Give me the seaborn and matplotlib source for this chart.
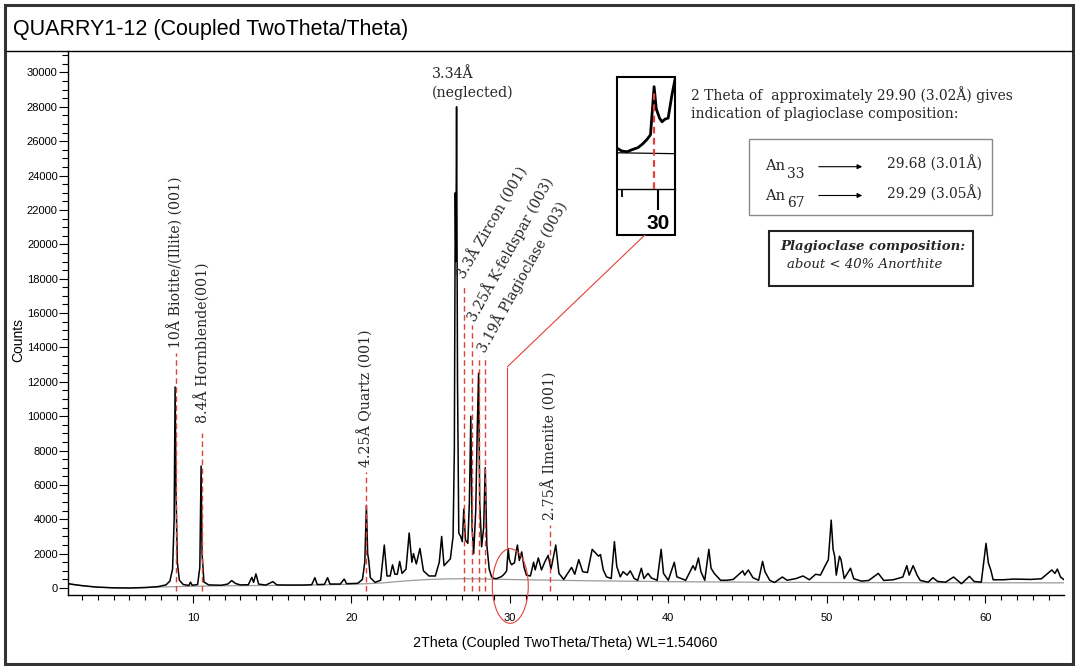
import numpy as np
import pandas as pd
import matplotlib
matplotlib.use("Agg")
import matplotlib.pyplot as plt
import seaborn as sns
from matplotlib.patches import Ellipse, Rectangle, ConnectionPatch, FancyArrowPatch
from matplotlib.lines import Line2D
from matplotlib.ticker import MultipleLocator

# ---------------- data ----------------
two_theta = [2.1, 2.5, 3.0, 3.5, 4.0, 5.0, 6.0, 7.0, 7.8, 8.3, 8.55, 8.72, 8.82, 8.88, 8.94, 9.02,
             9.15, 9.4, 9.75, 9.85, 9.95, 10.3, 10.44, 10.52, 10.58, 10.7, 11.0, 11.8, 12.2, 12.45,
             12.7, 13.0, 13.5, 13.72, 13.83, 13.98, 14.15, 14.6, 15.05, 15.3, 16.0, 17.0, 17.5, 17.7,
             17.85, 18.3, 18.5, 18.65, 19.3, 19.55, 19.7, 20.4, 20.7, 20.85, 20.95, 21.03, 21.1, 21.2,
             21.5, 21.85, 22.08, 22.25, 22.45, 22.6, 22.75, 22.9, 23.05, 23.2, 23.45, 23.65, 23.82,
             23.92, 24.1, 24.33, 24.55, 24.9, 25.3, 25.55, 25.7, 25.85, 26.05, 26.25, 26.42, 26.5,
             26.56, 26.6, 26.64, 26.7, 26.78, 26.9, 27.0, 27.1, 27.2, 27.35, 27.45, 27.54, 27.62,
             27.72, 27.85, 27.95, 28.03, 28.1, 28.22, 28.35, 28.45, 28.55, 28.7, 28.85, 29.0, 29.15,
             29.3, 29.45, 29.58, 29.7, 29.8, 29.86, 29.9, 29.96, 30.05, 30.12, 30.2, 30.29, 30.39,
             30.48, 30.6, 30.75, 30.9, 31.05, 31.3, 31.5, 31.6,
             31.8, 32.0, 32.2, 32.42, 32.6, 32.9, 33.1, 33.4, 33.9, 34.1, 34.35, 34.6, 34.9, 35.2,
             35.4, 35.6, 35.72, 35.9, 36.1, 36.4, 36.6, 36.75, 36.97, 37.15, 37.4, 37.6, 37.85, 38.07,
             38.3, 38.46, 38.72, 38.94, 39.3, 39.55, 39.7, 40.0, 40.38, 40.54, 41.1, 41.56, 41.7,
             41.9, 42.06, 42.3, 42.56, 42.7, 42.9, 43.3, 43.7, 44.1, 44.7, 44.82, 45.05, 45.34, 45.7,
             45.95, 46.1, 46.4, 46.7, 47.2, 47.5, 48.06, 48.5, 48.9, 49.3, 49.6, 49.9, 50.1, 50.28,
             50.4, 50.5, 50.6, 50.8, 50.9, 51.1, 51.5, 51.7, 52.2, 52.65, 53.25, 53.6, 54.2, 54.8,
             55.05, 55.2, 55.45, 55.7, 55.9, 56.4, 56.7, 57.0, 57.5, 58.0, 58.5, 59.0, 59.3, 59.75,
             60.05, 60.2, 60.35, 60.5, 61.15, 61.8, 62.9, 63.55, 64.2, 64.4, 64.55, 64.75, 64.97]
counts = [260, 200, 140, 90, 50, 10, 0, 30, 80, 180, 400, 1100, 4000, 11700, 5500, 1500,
          450, 200, 150, 340, 160, 200, 1200, 7100, 2000, 350, 180, 160, 230, 430,
          260, 180, 190, 620, 330, 820, 230, 170, 370, 180, 170, 170, 190, 600,
          200, 210, 600, 230, 230, 520, 250, 270, 500, 1500, 4800, 2000, 1600, 600,
          330, 450, 2500, 700, 700, 1350, 800, 800, 1550, 850, 1100, 3200, 1500,
          2000, 1400, 2300, 1000, 700, 700, 1500, 3000, 1300, 1500, 1700, 3000, 8000,
          23000, 19000, 28000, 12000, 3200, 3000, 2700, 4600, 2800, 2600, 5000, 10000, 3500,
          2000, 4500, 9400, 12500, 5000, 2400, 3500, 7000, 2500, 1100, 650, 560, 540,
          600, 650, 750, 870, 1000, 1800, 2300, 1700, 1450, 1350, 1420, 1450, 2050,
          2500, 1600, 2100, 1200, 750, 700, 1500, 1050,
          1750, 1050, 1500, 1900, 1100, 2500, 850, 500, 1200, 800, 1650, 950, 900, 2250,
          2050, 1850, 1950, 1050, 650, 550, 2700, 1250, 650, 950, 750, 1000, 550, 450,
          1150, 550, 850, 580, 450, 2250, 850, 450, 1500, 650, 450, 1300, 1050,
          1750, 950, 450, 2250, 1150, 850, 450, 450, 500, 1000, 750, 1050, 600, 450,
          1550, 950, 450, 320, 640, 450, 550, 700, 480, 800, 750, 1300, 1650, 3950,
          2250, 1850, 750, 1850, 1650, 550, 1150, 540, 400, 440, 850, 440, 480, 640,
          1300, 750, 1300, 750, 440, 340, 600, 380, 340, 640, 250, 680, 380, 340,
          2600, 1450, 1050, 480, 480, 520, 500, 540, 1050, 850, 1100, 640, 480]

bg_theta = [2.1, 3, 4, 5, 6, 7, 8, 10, 12, 15, 18, 20, 21, 22, 23, 24, 25, 26, 27, 28, 29, 30,
            31, 33, 35, 38, 40, 45, 50, 55, 60, 64.97]
bg_counts = [240, 130, 50, 10, 0, 20, 60, 100, 130, 150, 180, 220, 250, 300, 380, 450, 500, 530,
             540, 530, 510, 495, 480, 450, 420, 390, 370, 340, 320, 310, 305, 300]

x_ticks_major = [10, 20, 30, 40, 50, 60]

vlabels = ["10Å Biotite/(Illite) (001)", "8.4Å Hornblende(001)",
           "4.25Å Quartz (001)", "2.75Å Ilmenite (001)"]
vlabel_x = [8.91, 10.59, 20.92, 32.52]
vlabel_bottom = [13950, 9590, 7060, 3960]
vline_top = [13660, 9000, 6770, 3670]

alabels = ["3.3Å Zircon (001)", "3.25Å K-feldspar (003)", "3.19Å Plagioclase (003)"]
alabel_x = [27.16, 27.8, 28.48]
alabel_y = [17930, 15450, 13650]
alabel_rot = [60, 61, 61]
aline_x = [27.12, 27.60, 28.06, 28.44]
aline_top = [17700, 15300, 13500, 13500]

plag_peak = 29.90

# ---------------- figure ----------------
sns.set_theme(style="ticks")
plt.rcParams['font.family'] = ['Liberation Sans', 'DejaVu Sans']

W, H = 1078, 666
fig = plt.figure(figsize=(W / 100, H / 100), dpi=100)
fig.patch.set_facecolor('white')


def fx(px):
    return px / W


def fy(py):
    return 1 - py / H


RED = '#e3403a'
SERIF = 'DejaVu Serif'
TXT = '#262626'
LFS = 10.2

df = pd.DataFrame({'2theta': two_theta, 'counts': counts})
bg = pd.DataFrame({'2theta': bg_theta, 'counts': bg_counts})

ax = fig.add_axes([fx(67.5), fy(595), fx(1064) - fx(67.5), fy(51) - fy(595)])
ax.set_facecolor('white')
sns.lineplot(data=bg, x='2theta', y='counts', ax=ax, color='#9a9a9a', lw=0.9,
             estimator=None, sort=False)
sns.lineplot(data=df, x='2theta', y='counts', ax=ax, color='black', lw=1.1,
             estimator=None, sort=False)
ax.set_xlim(2.09, 64.97)
ax.set_ylim(-407, 31250)
ax.set_xlabel('')
ax.set_ylabel('')

for s in ['top', 'right']:
    ax.spines[s].set_visible(False)
for s in ['left', 'bottom']:
    ax.spines[s].set_color('black')
    ax.spines[s].set_linewidth(1.0)

ax.set_xticks(x_ticks_major)
ax.xaxis.set_minor_locator(MultipleLocator(1))
ax.yaxis.set_major_locator(MultipleLocator(2000))
ax.yaxis.set_minor_locator(MultipleLocator(500))
ax.tick_params(axis='x', which='major', direction='out', length=6, width=0.8,
               labelsize=8, pad=7, colors='black')
ax.tick_params(axis='x', which='minor', direction='out', length=3.5, width=0.8, colors='black')
ax.tick_params(axis='y', which='major', direction='out', length=6.5, width=0.8,
               labelsize=8, pad=0.5, colors='black')
ax.tick_params(axis='y', which='minor', direction='out', length=4.3, width=0.8, colors='black')
ax.tick_params(bottom=True, left=True, which='both')

# vertical peak labels with red dashed guides
for txt, x, tb, lt in zip(vlabels, vlabel_x, vlabel_bottom, vline_top):
    ax.text(x, tb, txt, rotation=90, rotation_mode='anchor', ha='left', va='center',
            fontsize=LFS, family=SERIF, color=TXT)
    ax.vlines(x, -150, lt, colors=RED, linestyles=(0, (4, 2.5)), lw=1, clip_on=False, zorder=4)

# angled labels
for txt, x, y, r in zip(alabels, alabel_x, alabel_y, alabel_rot):
    ax.text(x, y, txt, rotation=r, rotation_mode='anchor', ha='left', va='baseline',
            fontsize=LFS, family=SERIF, color=TXT)
for x, t in zip(aline_x, aline_top):
    ax.vlines(x, -150, t, colors=RED, linestyles=(0, (4, 2.5)), lw=1, clip_on=False, zorder=4)

# neglected quartz label
ax.text(25.06, 29690, "3.34Å", ha='left', va='baseline', fontsize=LFS, family=SERIF, color=TXT)
ax.text(25.06, 28580, "(neglected)", ha='left', va='baseline', fontsize=LFS, family=SERIF, color=TXT)

# ellipse + connector
ell = Ellipse((30.03, 116), 2.27, 4340, fill=False, edgecolor=RED, lw=0.8, clip_on=False, zorder=5)
ax.add_patch(ell)
ax.vlines(29.85, 2286, 12880, colors=RED, lw=0.8, zorder=5)

# ---------------- inset ----------------
ax_in = fig.add_axes([fx(617), fy(235), fx(675) - fx(617), fy(77) - fy(235)])
ax_in.set_facecolor('white')
sns.lineplot(data=bg, x='2theta', y='counts', ax=ax_in, color='black', lw=0.9,
             estimator=None, sort=False)
sns.lineplot(data=df, x='2theta', y='counts', ax=ax_in, color='black', lw=2.0,
             estimator=None, sort=False)
ax_in.set_xlim(28.87, 30.48)
ax_in.set_ylim(-1712, 2562)
ax_in.set_xlabel('')
ax_in.set_ylabel('')
for s in ['top', 'right', 'left']:
    ax_in.spines[s].set_visible(False)
ax_in.spines['bottom'].set_position(('data', -467))
ax_in.spines['bottom'].set_color('black')
ax_in.spines['bottom'].set_linewidth(1.0)
ax_in.set_yticks([])
ax_in.set_xticks([30])
ax_in.set_xticks([29], minor=True)
ax_in.set_xticklabels(['30'])
ax_in.tick_params(axis='x', which='major', direction='out', length=15, width=1.5,
                  labelsize=15, pad=3, colors='black', bottom=True)
ax_in.tick_params(axis='x', which='minor', direction='out', length=5.8, width=1.3,
                  colors='black', bottom=True)
for lab in ax_in.get_xticklabels():
    lab.set_fontweight('bold')
ax_in.vlines(plag_peak, -467, 2210, colors=RED, linestyles=(0, (3, 2)), lw=1.6, zorder=4)
ax_in.add_patch(Rectangle((0, 0), 1, 1, transform=ax_in.transAxes, fill=False,
                          edgecolor='black', lw=1.5, clip_on=False, zorder=6))

con = ConnectionPatch(xyA=(0.48, 0), coordsA=ax_in.transAxes,
                      xyB=(29.85, 12880), coordsB=ax.transData,
                      color=RED, lw=0.8, zorder=5)
fig.add_artist(con)

# ---------------- figure texts ----------------
fig.text(fx(13), fy(34.5), 'QUARRY1-12 (Coupled TwoTheta/Theta)', ha='left', va='baseline',
         fontsize=15.5, color='black')
fig.text(fx(18), fy(340), 'Counts', rotation=90, ha='center', va='center', fontsize=10, color='black')
fig.text(fx(565), fy(643), '2Theta (Coupled TwoTheta/Theta) WL=1.54060', ha='center', va='center',
         fontsize=10.3, color='black')

fig.text(fx(690.7), fy(100), '2 Theta of  approximately 29.90 (3.02Å) gives', ha='left',
         va='baseline', fontsize=10, family=SERIF, color=TXT)
fig.text(fx(690.7), fy(118), 'indication of plagioclase composition:', ha='left',
         va='baseline', fontsize=10, family=SERIF, color=TXT)

fig.add_artist(Rectangle((fx(749.3), fy(215)), fx(992.3) - fx(749.3), fy(139) - fy(215),
                         transform=fig.transFigure, fill=False, edgecolor='#8a8a8a', lw=1.0))
fig.text(fx(765), fy(170), 'An', ha='left', va='baseline', fontsize=10.5, family=SERIF, color=TXT)
fig.text(fx(787), fy(178), '33', ha='left', va='baseline', fontsize=10, family=SERIF, color=TXT)
fig.text(fx(765), fy(200), 'An', ha='left', va='baseline', fontsize=10.5, family=SERIF, color=TXT)
fig.text(fx(787), fy(207), '67', ha='left', va='baseline', fontsize=10, family=SERIF, color=TXT)
for yy in (166.7, 195.5):
    fig.add_artist(FancyArrowPatch((fx(816), fy(yy)), (fx(865), fy(yy)), transform=fig.transFigure,
                                   arrowstyle='-|>', mutation_scale=7, lw=0.8, color='black'))
fig.text(fx(887), fy(169), '29.68 (3.01Å)', ha='left', va='baseline', fontsize=10, family=SERIF, color=TXT)
fig.text(fx(887), fy(198.5), '29.29 (3.05Å)', ha='left', va='baseline', fontsize=10, family=SERIF, color=TXT)

fig.add_artist(Rectangle((fx(769), fy(285.7)), fx(973.3) - fx(769), fy(230.7) - fy(285.7),
                         transform=fig.transFigure, fill=False, edgecolor='#222222', lw=1.5))
fig.text(fx(780), fy(250), 'Plagioclase composition:', ha='left', va='baseline', fontsize=9.5,
         family=SERIF, style='italic', weight='bold', color=TXT)
fig.text(fx(787), fy(268.5), 'about < 40% Anorthite', ha='left', va='baseline', fontsize=9.5,
         family=SERIF, style='italic', color=TXT)

# title rule and outer border
fig.add_artist(Line2D([fx(6), fx(1072)], [fy(51), fy(51)], transform=fig.transFigure,
                      color='black', lw=1.0))
fig.add_artist(Rectangle((fx(5), fy(664)), fx(1073) - fx(5), fy(5) - fy(664),
                         transform=fig.transFigure, fill=False, edgecolor='#333333', lw=2.2))

fig.savefig('out.png', dpi=100, facecolor='white')
